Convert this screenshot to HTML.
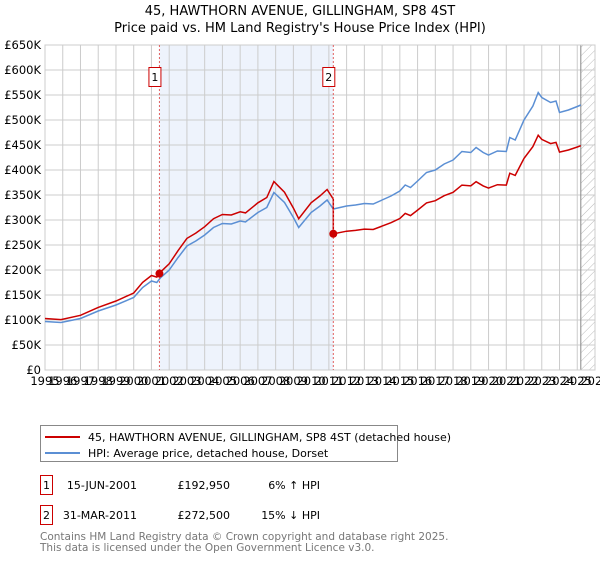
<!DOCTYPE html>
<html><head><meta charset="utf-8"><style>
body{margin:0;background:#fff;font-family:"Liberation Sans","DejaVu Sans",sans-serif;}
svg text{font-family:"DejaVu Sans","Liberation Sans",sans-serif;}
</style></head><body>
<svg id="chart" width="600" height="560" xmlns="http://www.w3.org/2000/svg">
<defs><pattern id="hatch" patternUnits="userSpaceOnUse" width="6" height="6" patternTransform="rotate(45)"><line x1="0" y1="0" x2="0" y2="6" stroke="#bbb" stroke-width="1"/></pattern></defs>
<text x="300" y="15" text-anchor="middle" font-size="13">45, HAWTHORN AVENUE, GILLINGHAM, SP8 4ST</text>
<text x="300" y="32" text-anchor="middle" font-size="13">Price paid vs. HM Land Registry's House Price Index (HPI)</text>
<g id="plot"></g>
<g>
<rect x="40.5" y="425.5" width="357" height="36" fill="#fff" stroke="#888"/>
<line x1="45" y1="437" x2="80" y2="437" stroke="#cc0000" stroke-width="2"/>
<text x="88" y="441" font-size="11">45, HAWTHORN AVENUE, GILLINGHAM, SP8 4ST (detached house)</text>
<line x1="45" y1="453" x2="80" y2="453" stroke="#5b8fd4" stroke-width="2"/>
<text x="88" y="457" font-size="11">HPI: Average price, detached house, Dorset</text>
</g>
<g font-size="11">
<rect x="40.5" y="475.5" width="12" height="19" fill="#fff" stroke="#cc0000"/><text x="46.5" y="489" text-anchor="middle">1</text>
<text x="137" y="489" text-anchor="end">15-JUN-2001</text><text x="230" y="489" text-anchor="end">£192,950</text><text x="320" y="489" text-anchor="end">6% ↑ HPI</text>
<rect x="40.5" y="505.5" width="12" height="19" fill="#fff" stroke="#cc0000"/><text x="46.5" y="519" text-anchor="middle">2</text>
<text x="137" y="519" text-anchor="end">31-MAR-2011</text><text x="230" y="519" text-anchor="end">£272,500</text><text x="320" y="519" text-anchor="end">15% ↓ HPI</text>
</g>
<text x="40" y="540" font-size="10.5" fill="#777">Contains HM Land Registry data © Crown copyright and database right 2025.</text>
<text x="40" y="551" font-size="10.5" fill="#777">This data is licensed under the Open Government Licence v3.0.</text>
</svg>
<script>
const hpiYears=[1995,1995.9,1997,1998,1999,2000,2000.5,2001,2001.3,2001.5,2002,2002.5,2003,2003.5,2004,2004.5,2005,2005.5,2006,2006.3,2007,2007.5,2007.9,2008.5,2009,2009.3,2010,2010.5,2010.9,2011.25,2012,2012.5,2013,2013.5,2014,2014.5,2015,2015.3,2015.6,2016,2016.5,2017,2017.5,2018,2018.5,2019,2019.3,2019.7,2020,2020.5,2021,2021.2,2021.5,2022,2022.5,2022.8,2023,2023.5,2023.8,2024,2024.5,2025,2025.2];
const hpiValues=[97,95,103,118,130,145,165,178,175,184,200,225,248,258,270,285,293,292,298,296,315,325,355,335,305,285,315,328,340,322,328,330,333,332,340,348,358,370,365,378,395,400,412,420,437,435,445,435,430,438,437,465,460,500,528,555,545,535,538,515,520,527,530];
const saleDates=[2001.45,2011.25];
const salePrices=[192.95,272.5];
const saleLabels=["1","2"];
const yTicks=[0,50,100,150,200,250,300,350,400,450,500,550,600,650];
const yTickLabels=["£0","£50K","£100K","£150K","£200K","£250K","£300K","£350K","£400K","£450K","£500K","£550K","£600K","£650K"];
const xYears=[1995,1996,1997,1998,1999,2000,2001,2002,2003,2004,2005,2006,2007,2008,2009,2010,2011,2012,2013,2014,2015,2016,2017,2018,2019,2020,2021,2022,2023,2024,2025,2026];
const dataEnd=2025.2;

const L=45,R=595,T=45,B=370;
const X=y=>L+(y-1995)/(2026-1995)*(R-L);
const Y=v=>B-v/650*(B-T);
const NS="http://www.w3.org/2000/svg";
const plot=document.getElementById('plot');
function mk(tag,attrs,parent){const e=document.createElementNS(NS,tag);for(const k in attrs)e.setAttribute(k,attrs[k]);(parent||plot).appendChild(e);return e;}
function hpiAt(t){for(let i=0;i<hpiYears.length-1;i++){if(t>=hpiYears[i]&&t<=hpiYears[i+1]){const f=(t-hpiYears[i])/(hpiYears[i+1]-hpiYears[i]);return hpiValues[i]+f*(hpiValues[i+1]-hpiValues[i]);}}return hpiValues[hpiValues.length-1];}

let e=mk('rect',{x:X(saleDates[0]),y:T,width:X(saleDates[1])-X(saleDates[0]),height:B-T,fill:'#eef3fc'});


e=mk('rect',{x:X(dataEnd),y:T,width:R-X(dataEnd),height:B-T,fill:'url(#hatch)'});


yTicks.forEach((v,i)=>{
 let g=mk('line',{x1:L,x2:R,y1:Y(v),y2:Y(v),stroke:'#ccc','stroke-width':1});
 
 
 let t=mk('text',{x:L-4,y:Y(v)+4,'text-anchor':'end','font-size':11.5});
 
 
 t.textContent=yTickLabels[i];
});
xYears.forEach(yr=>{
 let g=mk('line',{x1:X(yr),x2:X(yr),y1:T,y2:B,stroke:'#ccc','stroke-width':1});
 
 
 let t=mk('text',{x:X(yr),y:B+15,'text-anchor':'middle','font-size':11.5});
 
 
 t.textContent=yr;
});
e=mk('line',{x1:X(dataEnd),x2:X(dataEnd),y1:T,y2:B,stroke:'#888','stroke-width':1});


e=mk('rect',{x:L,y:T,width:R-L,height:B-T,fill:'none',stroke:'#ccc'});



let d=hpiYears.map((t,i)=>(i?'L':'M')+X(t).toFixed(1)+','+Y(hpiValues[i]).toFixed(1)).join('');
e=mk('path',{d:d,fill:'none',stroke:'#5b8fd4','stroke-width':1.5});


const r1=salePrices[0]/hpiAt(saleDates[0]), r2=salePrices[1]/hpiAt(saleDates[1]);
let pts=[];
hpiYears.forEach((t,i)=>{ if(t<saleDates[1]) pts.push([t,hpiValues[i]*r1]); });
pts.push([saleDates[1],hpiAt(saleDates[1])*r1]);
pts.push([saleDates[1],salePrices[1]]);
hpiYears.forEach((t,i)=>{ if(t>saleDates[1]) pts.push([t,hpiValues[i]*r2]); });
d=pts.map((p,i)=>(i?'L':'M')+X(p[0]).toFixed(1)+','+Y(p[1]).toFixed(1)).join('');
e=mk('path',{d:d,fill:'none',stroke:'#cc0000','stroke-width':1.5});


saleDates.forEach((t,i)=>{
 let l=mk('line',{x1:X(t),x2:X(t),y1:T,y2:B,stroke:'#e06060','stroke-width':1,'stroke-dasharray':'2,2'});
 
 
 let c=mk('circle',{cx:X(t),cy:Y(salePrices[i]),r:4,fill:'#cc0000'});
 
 
 let b=mk('rect',{x:X(t)-10.5,y:67.5,width:12,height:19,fill:'#fff',stroke:'#cc0000'});
 
 
 let tx=mk('text',{x:X(t)-4.5,y:81,'text-anchor':'middle','font-size':11});
 
 
 tx.textContent=saleLabels[i];
});
</script>
</body></html>
